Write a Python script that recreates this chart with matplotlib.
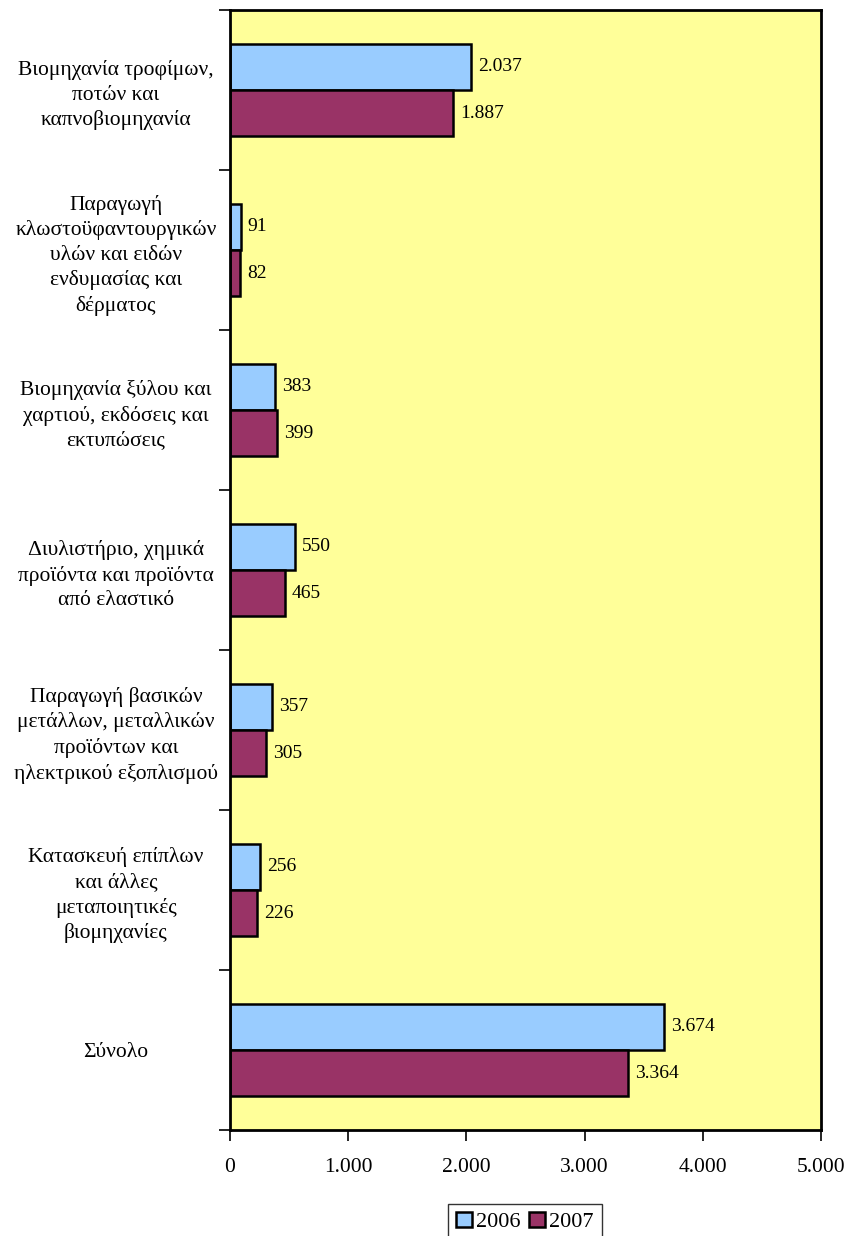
import numpy as np
import matplotlib.pyplot as plt

plt.rcParams['font.family'] = ['Liberation Serif', 'DejaVu Serif']

categories = [
    "Βιομηχανία τροφίμων,\nποτών και\nκαπνοβιομηχανία",
    "Παραγωγή\nκλωστοϋφαντουργικών\nυλών και ειδών\nενδυμασίας και\nδέρματος",
    "Βιομηχανία ξύλου και\nχαρτιού, εκδόσεις και\nεκτυπώσεις",
    "Διυλιστήριο, χημικά\nπροϊόντα και προϊόντα\nαπό ελαστικό",
    "Παραγωγή βασικών\nμετάλλων, μεταλλικών\nπροϊόντων και\nηλεκτρικού εξοπλισμού",
    "Κατασκευή επίπλων\nκαι άλλες\nμεταποιητικές\nβιομηχανίες",
    "Σύνολο",
]
values_2006 = [2037, 91, 383, 550, 357, 256, 3674]
values_2007 = [1887, 82, 399, 465, 305, 226, 3364]
xticks = [0, 1000, 2000, 3000, 4000, 5000]


def fmt(v):
    return "{:,}".format(int(v)).replace(",", ".")


fig = plt.figure(figsize=(8.48, 12.36), dpi=100)
ax = fig.add_axes([230 / 848, 1 - 1130 / 1236, (821 - 230) / 848, 1120 / 1236])
ax.set_facecolor('#FFFF99')

y = np.arange(len(categories))
h = 0.29
b1 = ax.barh(y - h / 2, values_2006, height=h, color='#99CCFF', edgecolor='black', linewidth=1.8, label='2006')
b2 = ax.barh(y + h / 2, values_2007, height=h, color='#993366', edgecolor='black', linewidth=1.8, label='2007')

for bars, vals in ((b1, values_2006), (b2, values_2007)):
    for bar, v in zip(bars, vals):
        ax.text(v + 60, bar.get_y() + bar.get_height() / 2, fmt(v), va='center', ha='left', fontsize=14)

ax.set_xlim(0, 5000)
ax.set_ylim(len(categories) - 0.5, -0.5)
ax.set_xticks(xticks)
ax.set_xticklabels([fmt(t) for t in xticks], fontsize=15.5)
ax.set_yticks(y)
ax.set_yticklabels(categories, fontsize=15.5, multialignment='center', linespacing=1.38)
ax.set_yticks(np.arange(len(categories) + 1) - 0.5, minor=True)
ax.tick_params(axis='y', which='major', length=0, pad=0)
ax.tick_params(axis='y', which='minor', length=8, width=1.2, direction='out')
ax.tick_params(axis='x', length=8, width=1.2, direction='out', pad=12)
for lbl in ax.get_yticklabels():
    lbl.set_horizontalalignment('center')
    lbl.set_x(-0.193)
for s in ax.spines.values():
    s.set_linewidth(2)

leg = fig.legend(handles=[b1, b2], loc='upper center', bbox_to_anchor=(525 / 848, 1 - 1204 / 1236),
                 ncol=2, fontsize=16, frameon=True, fancybox=False, edgecolor='black',
                 handlelength=0.7, handleheight=0.7, handletextpad=0.2, columnspacing=0.4,
                 borderpad=0.35, borderaxespad=0)
leg.get_frame().set_linewidth(1)

fig.savefig('out.png', dpi=100)
